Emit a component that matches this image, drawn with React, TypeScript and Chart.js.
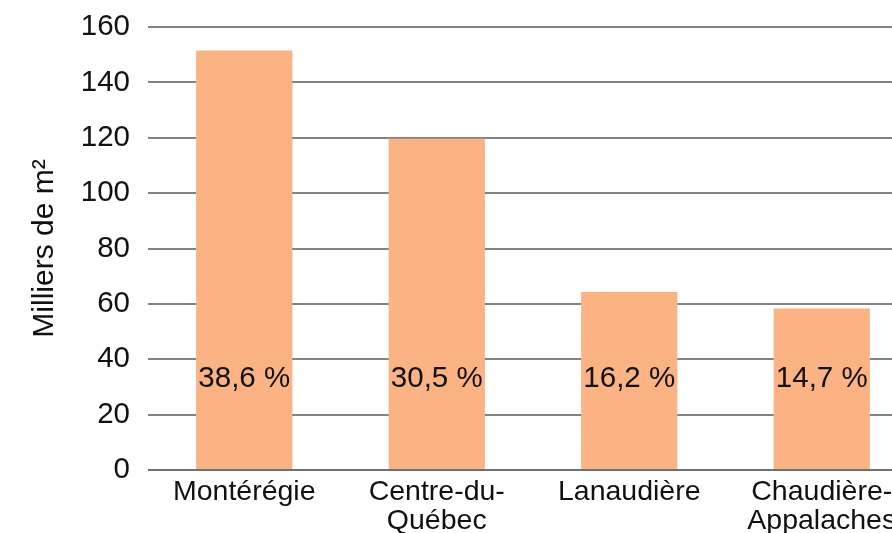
import React, { useEffect, useRef } from "react";
import { Chart, registerables } from "chart.js";

Chart.register(...registerables);

const categories: (string | string[])[] = [
  "Montérégie",
  ["Centre-du-", "Québec"],
  "Lanaudière",
  ["Chaudière-", "Appalaches"],
];
const values: number[] = [151.5, 119.6, 64.3, 58.3];
const shareLabels: string[] = ["38,6 %", "30,5 %", "16,2 %", "14,7 %"];
const yMin = 0;
const yMax = 160;
const yStep = 20;
const labelValueY = 33;

const FONT = "'Liberation Sans', Arial, Helvetica, sans-serif";

const shareLabelPlugin = {
  id: "shareLabels",
  afterDatasetsDraw(chart: any) {
    const { ctx } = chart;
    const meta = chart.getDatasetMeta(0);
    const yScale = chart.scales.y;
    ctx.save();
    ctx.font = `29.5px ${FONT}`;
    ctx.fillStyle = "#111111";
    ctx.textAlign = "center";
    ctx.textBaseline = "middle";
    meta.data.forEach((bar: any, i: number) => {
      ctx.fillText(shareLabels[i], bar.x, yScale.getPixelForValue(labelValueY));
    });
    ctx.restore();
  },
};

export default function App() {
  const canvasRef = useRef<HTMLCanvasElement | null>(null);

  useEffect(() => {
    if (!canvasRef.current) return;
    const chart = new Chart(canvasRef.current, {
      type: "bar",
      data: {
        labels: categories,
        datasets: [
          {
            data: values,
            backgroundColor: "#fbb383",
            borderWidth: 0,
            barPercentage: 0.5,
            categoryPercentage: 1,
          },
        ],
      },
      options: {
        responsive: false,
        animation: false,
        layout: { padding: { top: 27, left: 0, right: 12, bottom: 0 } },
        plugins: {
          legend: { display: false },
          tooltip: { enabled: false },
        },
        scales: {
          x: {
            grid: { display: false, drawTicks: false },
            border: { display: false },
            ticks: {
              color: "#111111",
              font: { family: FONT, size: 28.5, lineHeight: 1.0 },
              padding: 8,
              maxRotation: 0,
              autoSkip: false,
            },
            afterFit: (scale: any) => {
              scale.height = 63;
              scale.paddingLeft = 0;
              scale.paddingRight = 0;
            },
          },
          y: {
            min: yMin,
            max: yMax,
            ticks: {
              stepSize: yStep,
              color: "#111111",
              font: { family: FONT, size: 29.5 },
              padding: 18,
            },
            grid: {
              color: (c: any) => (c.tick && c.tick.value === 0 ? "#707070" : "#838383"),
              lineWidth: 2,
              drawTicks: false,
            },
            border: { display: false },
            title: {
              display: true,
              text: "Milliers de m²",
              color: "#111111",
              font: { family: FONT, size: 30, lineHeight: 1.2 },
              padding: { top: 27, bottom: 0 },
            },
            afterFit: (scale: any) => {
              scale.width = 148;
              scale.paddingTop = 0;
              scale.paddingBottom = 0;
            },
          },
        },
      },
      plugins: [shareLabelPlugin],
    });
    return () => chart.destroy();
  }, []);

  return (
    <div
      style={{
        position: "fixed",
        left: 0,
        top: 0,
        width: 892,
        height: 533,
        overflow: "hidden",
        background: "#ffffff",
      }}
    >
      <canvas ref={canvasRef} width={930} height={533} style={{ display: "block" }} />
    </div>
  );
}
